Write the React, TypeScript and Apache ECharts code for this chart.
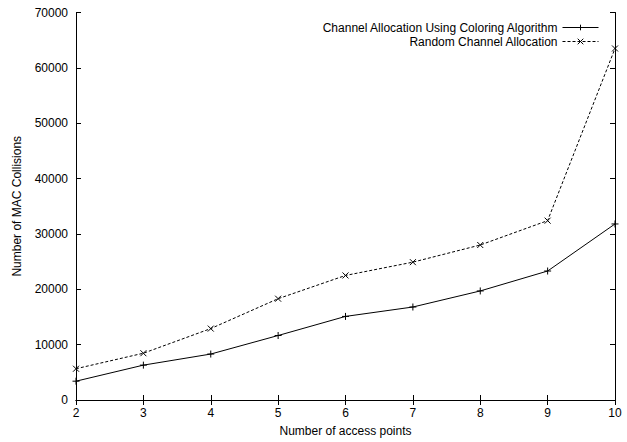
import React, { useEffect, useRef } from "react";
import * as echarts from "echarts";

const accessPoints = [2, 3, 4, 5, 6, 7, 8, 9, 10];
const coloringCollisions = [3400, 6300, 8300, 11650, 15100, 16800, 19700, 23300, 31800];
const randomCollisions = [5650, 8450, 12900, 18300, 22500, 24900, 28000, 32400, 63500];
const seriesNames = ["Channel Allocation Using Coloring Algorithm", "Random Channel Allocation"];

const plusPath = "path://M0,5L10,5M5,0L5,10";
const crossPath = "path://M0,0L10,10M10,0L0,10";

export default function App() {
  const ref = useRef<HTMLDivElement>(null);
  useEffect(() => {
    if (!ref.current) return;
    document.body.style.margin = "0";
    const chart = echarts.init(ref.current, null, { renderer: "svg" });
    const font = "Liberation Sans, Arial, sans-serif";
    const tick = { show: true, inside: true, length: 5, lineStyle: { color: "#000", width: 1 } };
    const line = { show: true, lineStyle: { color: "#000", width: 1 } };
    chart.setOption({
      animation: false,
      backgroundColor: "#fff",
      textStyle: { fontFamily: font },
      grid: { left: 76, right: 12, top: 12.5, bottom: 41, containLabel: false },
      legend: {
        orient: "vertical",
        right: 23,
        top: 15.5,
        align: "right",
        itemWidth: 36,
        itemHeight: 7,
        itemGap: 0,
        lineStyle: { width: 1 },
        itemStyle: { borderWidth: 1 },
        textStyle: { fontFamily: font, fontSize: 12, color: "#000", lineHeight: 14 },
        data: seriesNames,
      },
      xAxis: [
        {
          type: "value",
          min: 2,
          max: 10,
          interval: 1,
          name: "Number of access points",
          nameLocation: "middle",
          nameGap: 25,
          nameTextStyle: { fontFamily: font, fontSize: 12, color: "#000" },
          axisLine: line,
          axisTick: tick,
          splitLine: { show: false },
          axisLabel: { color: "#000", fontSize: 12, fontFamily: font, margin: 7 },
        },
        {
          type: "value",
          position: "top",
          min: 2,
          max: 10,
          interval: 1,
          axisLine: line,
          axisTick: tick,
          splitLine: { show: false },
          axisLabel: { show: false },
        },
      ],
      yAxis: [
        {
          type: "value",
          min: 0,
          max: 70000,
          interval: 10000,
          name: "Number of MAC Collisions",
          nameLocation: "middle",
          nameGap: 53,
          nameRotate: 90,
          nameTextStyle: { fontFamily: font, fontSize: 12, color: "#000" },
          axisLine: line,
          axisTick: tick,
          splitLine: { show: false },
          axisLabel: { color: "#000", fontSize: 12, fontFamily: font, margin: 8, formatter: (v: number) => String(v) },
        },
        {
          type: "value",
          position: "right",
          min: 0,
          max: 70000,
          interval: 10000,
          axisLine: line,
          axisTick: tick,
          splitLine: { show: false },
          axisLabel: { show: false },
        },
      ],
      series: [
        {
          name: seriesNames[0],
          type: "line",
          data: accessPoints.map((x, i) => [x, coloringCollisions[i]]),
          symbol: plusPath,
          symbolSize: 7,
          showAllSymbol: true,
          lineStyle: { color: "#000", width: 1, type: "solid" },
          itemStyle: { color: "#000", borderColor: "#000", borderWidth: 1 },
        },
        {
          name: seriesNames[1],
          type: "line",
          data: accessPoints.map((x, i) => [x, randomCollisions[i]]),
          symbol: crossPath,
          symbolSize: 6,
          showAllSymbol: true,
          lineStyle: { color: "#000", width: 1, type: [3, 2] },
          itemStyle: { color: "#000", borderColor: "#000", borderWidth: 1 },
        },
      ],
    });
    return () => chart.dispose();
  }, []);
  return <div ref={ref} style={{ width: 627, height: 442 }} />;
}
